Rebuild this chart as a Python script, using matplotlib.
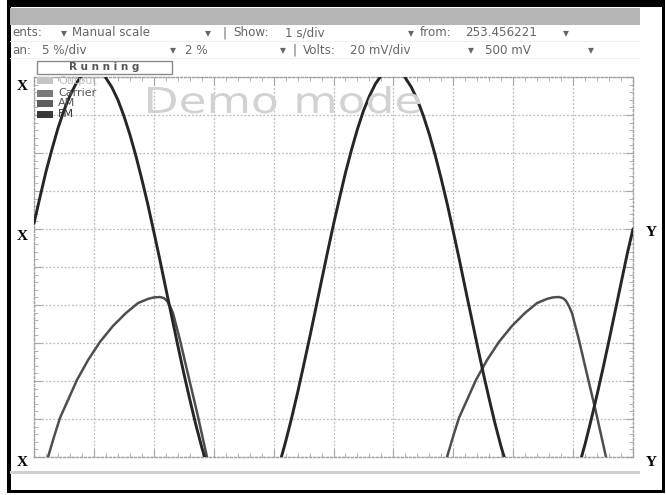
import numpy as np
import matplotlib
matplotlib.use("Agg")
import matplotlib.pyplot as plt
from matplotlib.patches import Rectangle, PathPatch
from matplotlib.textpath import TextPath
from matplotlib.font_manager import FontProperties
from matplotlib.transforms import Affine2D
from matplotlib.ticker import MultipleLocator

nan = np.nan

# ---- data (in screen divisions, 10 x 10 grid) ----
fm_x = [0.00, 0.10, 0.20, 0.30, 0.40, 0.50, 0.60, 0.70, 0.78, nan,
        1.19, 1.30, 1.40, 1.50, 1.60, 1.70, 1.80, 1.90, 2.00, 2.10, 2.20, 2.30, 2.40,
        2.50, 2.60, 2.70, 2.80, 2.85, nan,
        4.13, 4.20, 4.30, 4.40, 4.50, 4.60, 4.70, 4.80, 4.90, 5.00, 5.10, 5.20, 5.30,
        5.40, 5.50, 5.60, 5.70, 5.78, nan,
        6.19, 6.30, 6.40, 6.50, 6.60, 6.70, 6.80, 6.90, 7.00, 7.10, 7.20, 7.30, 7.40,
        7.50, 7.60, 7.70, 7.80, 7.85, nan,
        9.14, 9.20, 9.30, 9.40, 9.50, 9.60, 9.70, 9.80, 9.90, 10.00]
fm_y = [6.15, 6.84, 7.51, 8.10, 8.65, 9.12, 9.51, 9.82, 10.0, nan,
        10.0, 9.73, 9.40, 8.98, 8.49, 7.93, 7.31, 6.65, 5.93, 5.20, 4.44, 3.69, 2.94,
        2.21, 1.52, 0.86, 0.26, 0.0, nan,
        0.0, 0.40, 1.02, 1.69, 2.40, 3.13, 3.88, 4.64, 5.39, 6.12, 6.81, 7.48, 8.08,
        8.63, 9.11, 9.50, 9.82, 10.0, nan,
        10.0, 9.73, 9.40, 8.98, 8.49, 7.93, 7.31, 6.65, 5.93, 5.20, 4.44, 3.69, 2.94,
        2.21, 1.52, 0.86, 0.26, 0.0, nan,
        0.0, 0.34, 0.97, 1.64, 2.34, 3.07, 3.82, 4.57, 5.32, 6.00]

am_x = [0.234, 0.334, 0.434, 0.568, 0.718, 0.902, 1.102, 1.319, 1.536, 1.736, 1.903,
        2.003, 2.104, 2.170, 2.220, 2.270, 2.320, 2.437, 2.554, 2.721, 2.888, nan,
        6.895, 6.995, 7.095, 7.229, 7.379, 7.563, 7.763, 7.980, 8.197, 8.397, 8.564,
        8.664, 8.765, 8.831, 8.881, 8.931, 8.981, 9.098, 9.215, 9.382, 9.549]
am_y = [0.0, 0.53, 1.03, 1.50, 2.03, 2.55, 3.03, 3.45, 3.79, 4.05, 4.16,
        4.20, 4.21, 4.18, 4.11, 3.97, 3.79, 3.08, 2.29, 1.18, 0.0, nan,
        0.0, 0.53, 1.03, 1.50, 2.03, 2.55, 3.03, 3.45, 3.79, 4.05, 4.16,
        4.20, 4.21, 4.18, 4.11, 3.97, 3.79, 3.08, 2.29, 1.18, 0.0]

legend_labels = ["Output", "Carrier", "AM", "FM"]
legend_colors = ["#c4c4c4", "#7a7a7a", "#5e5e5e", "#3a3a3a"]
legend_text_colors = ["#c0c0c0", "#555555", "#555555", "#333333"]

row1 = [("ents:", 12), ("\u25BE", 61), ("Manual scale", 72), ("\u25BE", 205), ("|", 222),
        ("Show:", 233), ("1 s/div", 285), ("\u25BE", 408), ("from:", 420),
        ("253.456221", 465), ("\u25BE", 563)]
row2 = [("an:", 12), ("5 %/div", 42), ("\u25BE", 170), ("2 %", 185), ("\u25BE", 280),
        ("|", 292), ("Volts:", 303), ("20 mV/div", 350), ("\u25BE", 468),
        ("500 mV", 485), ("\u25BE", 588)]

W, H = 666, 495
fig = plt.figure(figsize=(W / 100, H / 100), dpi=100)
fig.patch.set_facecolor("white")
FAM = ["DejaVu Sans"]


def fx(x):
    return x / W


def fy(y):
    return 1 - y / H


def rect(x0, y0, x1, y1, **kw):
    fig.patches.append(Rectangle((fx(x0), fy(y1)), fx(x1) - fx(x0), fy(y0) - fy(y1),
                                 transform=fig.transFigure, figure=fig, **kw))


# outer black frame
rect(7, 0, 664, 7, color="black", lw=0)
rect(7, 0, 10.5, 493, color="black", lw=0)
rect(662, 0, 664.5, 493, color="black", lw=0)
rect(7, 490, 664, 493, color="black", lw=0)
# gray title bar
rect(10.5, 8, 640, 25, color="#b4b4b4", lw=0)
# bottom gray line
rect(10.5, 471, 640, 474, color="#cfcfcf", lw=0)
# faint separator lines
rect(10.5, 41, 640, 42, color="#f0f0f0", lw=0)
rect(10.5, 58, 640, 59, color="#f0f0f0", lw=0)

for txt, x in row1:
    fig.text(fx(x), fy(33), txt, fontsize=8.6, color="#666666", va="center", ha="left",
             family=FAM)
for txt, x in row2:
    fig.text(fx(x), fy(50), txt, fontsize=8.6, color="#666666", va="center", ha="left",
             family=FAM)

# Running box
rect(36.5, 61, 172, 74, facecolor="white", edgecolor="#8a8a8a", lw=1.0)
fig.text(fx(104), fy(67.5), "R u n n i n g", fontsize=7.5, fontweight="bold", color="#555555",
         ha="center", va="center", family=FAM)

# axes
ax = fig.add_axes([fx(34), fy(457), fx(633) - fx(34), fy(77) - fy(457)])
ax.set_xlim(0, 10)
ax.set_ylim(0, 10)
ax.xaxis.set_major_locator(MultipleLocator(1))
ax.yaxis.set_major_locator(MultipleLocator(1))
ax.xaxis.set_minor_locator(MultipleLocator(0.2))
ax.yaxis.set_minor_locator(MultipleLocator(0.2))
ax.grid(True, which="major", color="#bcbcbc", linestyle=(0, (1.5, 1.5)), lw=0.9)
for s in ax.spines.values():
    s.set_color("#a0a0a0")
    s.set_linestyle((0, (1.5, 1.5)))
    s.set_linewidth(1.0)
ax.tick_params(which="both", direction="in", left=True, right=True, bottom=True, top=True,
               labelleft=False, labelbottom=False, color="#a8a8a8")
ax.tick_params(which="major", length=6, width=0.8)
ax.tick_params(which="minor", length=3, width=0.6)

# watermark "Demo mode" (horizontally stretched like the screenshot)
tp = TextPath((0, 0), "Demo mode", size=1, prop=FontProperties(family="DejaVu Sans"))
ext = tp.get_extents()
target_w, cap_h = 272, 26
sx = target_w / ext.width
sy = cap_h / 0.73
tr = Affine2D().translate(-ext.x0, 0).scale(sx / W, sy / H).translate(fx(148), fy(113)) + fig.transFigure
fig.patches.append(PathPatch(tp, transform=tr, facecolor="#d2d2d2", edgecolor="none", figure=fig))

ax.plot(am_x, am_y, color="#4e4e4e", lw=1.8, solid_capstyle="round", zorder=3)
ax.plot(fm_x, fm_y, color="#262626", lw=2.1, solid_capstyle="round", zorder=4)

# legend
ly = [80.5, 93.5, 103.5, 114]
for lab, c, tc, y in zip(legend_labels, legend_colors, legend_text_colors, ly):
    rect(37, y - 3.5, 53, y + 3.5, color=c, lw=0, zorder=5)
    fig.text(fx(58), fy(y), lab, fontsize=8, color=tc, va="center", ha="left",
             family=FAM, zorder=5)

# X / Y markers
for y in [87, 237, 462]:
    fig.text(fx(22), fy(y), "X", fontsize=11, fontweight="bold", family="Liberation Serif",
             ha="center", va="center", color="black")
for y in [232, 462]:
    fig.text(fx(651), fy(y), "Y", fontsize=11, fontweight="bold", family="Liberation Serif",
             ha="center", va="center", color="black")

fig.savefig("out.png", dpi=100)
